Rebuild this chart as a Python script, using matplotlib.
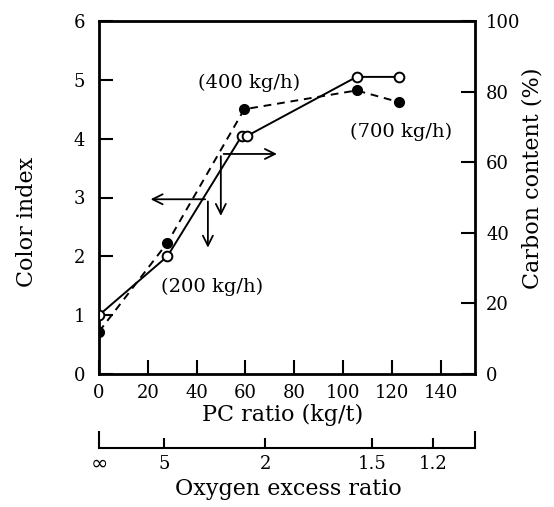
import matplotlib.pyplot as plt

plt.rcParams['font.family'] = ['DejaVu Serif']

# open circles, solid line (color index)
pc_open = [0, 28, 58.5, 60.8, 105.5, 123]
ci_open = [1.0, 2.0, 4.05, 4.05, 5.05, 5.05]
# filled circles, dashed line
pc_fill = [0, 28, 59.5, 105.5, 123]
ci_fill = [0.72, 2.23, 4.5, 4.82, 4.62]

# oxygen excess ratio scale, placed on PC ratio positions
oxy_pos = [26.5, 68, 112, 137]
oxy_labels = ['5', '2', '1.5', '1.2']

W, H = 554, 507
fig = plt.figure(figsize=(W / 100, H / 100), dpi=100)
L, R, T, B = 99, 475, 21, 374
ax = fig.add_axes([L / W, 1 - B / H, (R - L) / W, (B - T) / H])

ax.plot(pc_open, ci_open, '-', color='black', lw=1.4, zorder=2)
ax.plot(pc_open, ci_open, 'o', ms=7, mfc='white', mec='black', mew=1.4, zorder=3)
ax.plot(pc_fill, ci_fill, '--', color='black', lw=1.4, dashes=(4, 3), zorder=2)
ax.plot(pc_fill, ci_fill, 'o', ms=7, mfc='black', mec='black', zorder=3)

ax.set_xlim(0, 154)
ax.set_ylim(0, 6)
ax.set_xticks([0, 20, 40, 60, 80, 100, 120, 140])
ax.set_yticks(range(7))
ax.tick_params(direction='in', length=10, width=1.5, labelsize=13)
ax.tick_params(axis='x', pad=7)
ax.tick_params(axis='y', pad=10)
for s in ax.spines.values():
    s.set_linewidth(2)

ax2 = ax.twinx()
ax2.set_ylim(0, 100)
ax2.set_yticks([0, 20, 40, 60, 80, 100])
ax2.tick_params(direction='in', length=10, width=1.5, labelsize=13, pad=8)

arr = dict(arrowstyle='->', color='black', lw=1.3, mutation_scale=18)
# arrows pointing to color index axis
ax.annotate('', xy=(20, 2.97), xytext=(44.6, 2.97), arrowprops=arr)
ax.annotate('', xy=(44.6, 2.1), xytext=(44.6, 2.98), arrowprops=arr)
# arrows pointing to carbon content axis
ax.annotate('', xy=(74, 3.74), xytext=(49.9, 3.74), arrowprops=arr)
ax.annotate('', xy=(49.9, 2.64), xytext=(49.9, 3.75), arrowprops=arr)

ax.text(61.4, 4.95, '(400 kg/h)', fontsize=14, ha='center', va='center')
ax.text(123.6, 4.11, '(700 kg/h)', fontsize=14, ha='center', va='center')
ax.text(46.2, 1.48, '(200 kg/h)', fontsize=14, ha='center', va='center')

fig.text(27 / W, 1 - 222 / H, 'Color index', rotation=90, fontsize=16,
         ha='center', va='center')
fig.text(533 / W, 1 - 178 / H, 'Carbon content (%)', rotation=90, fontsize=16,
         ha='center', va='center')
fig.text(283 / W, 1 - 415 / H, 'PC ratio (kg/t)', fontsize=16,
         ha='center', va='center')
fig.text(288 / W, 1 - 489 / H, 'Oxygen excess ratio', fontsize=16,
         ha='center', va='center')

# second scale: oxygen excess ratio
ox = fig.add_axes([L / W, 1 - 448 / H, (R - L) / W, 0.001])
for k in ['top', 'left', 'right']:
    ox.spines[k].set_visible(False)
ox.spines['bottom'].set_linewidth(1.5)
ox.set_xlim(0, 154)
ox.set_yticks([])
ox.set_xticks(oxy_pos, oxy_labels)
ox.set_xticks([0, 154], ['∞', ''], minor=True)
ox.tick_params(axis='x', which='major', direction='in', length=7, width=1.5,
               labelsize=13, pad=5)
ox.tick_params(axis='x', which='minor', direction='in', length=12, width=1.5,
               labelsize=15, pad=4)
for lbl in ox.get_xticklabels(minor=True):
    lbl.set_fontfamily('DejaVu Sans')
ox.patch.set_visible(False)

fig.savefig('out.png', dpi=100)
